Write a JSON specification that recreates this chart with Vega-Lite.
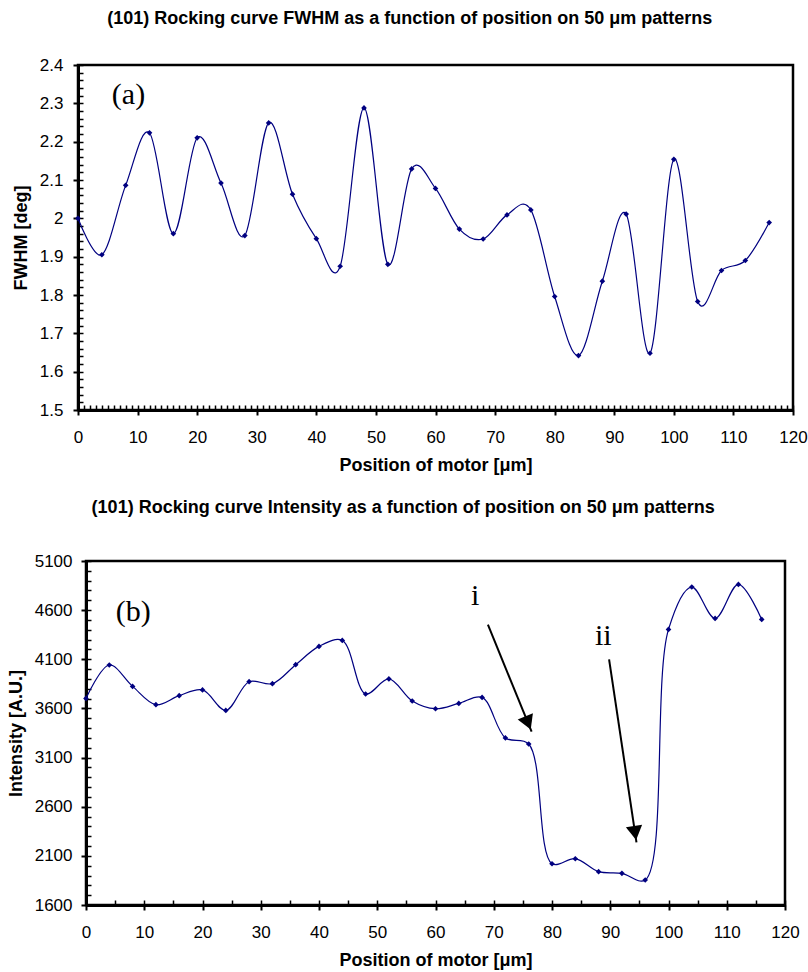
{
  "$schema": "https://vega.github.io/schema/vega-lite/v6.json",
  "background": "white",
  "padding": {"left": 5, "top": 8, "right": 0, "bottom": 0},
  "bounds": "flush",
  "center": true,
  "spacing": 151,
  "config": {
    "font": "Liberation Sans",
    "view": {"stroke": "black", "strokeWidth": 2.5},
    "axis": {"grid": false, "labelColor": "black", "titleColor": "black", "tickColor": "black", "domainColor": "black", "labelFont": "Liberation Sans", "titleFont": "Liberation Sans", "labelFontSize": 17, "titleFontSize": 18, "titleFontWeight": "bold"}
  },
  "datasets": {
    "fwhm": [
      {"pos": 0, "fwhm": 2.0}, {"pos": 4, "fwhm": 1.905}, {"pos": 8, "fwhm": 2.086}, {"pos": 12, "fwhm": 2.223},
      {"pos": 16, "fwhm": 1.96}, {"pos": 20, "fwhm": 2.21}, {"pos": 24, "fwhm": 2.092}, {"pos": 28, "fwhm": 1.955},
      {"pos": 32, "fwhm": 2.249}, {"pos": 36, "fwhm": 2.063}, {"pos": 40, "fwhm": 1.947}, {"pos": 44, "fwhm": 1.875},
      {"pos": 48, "fwhm": 2.288}, {"pos": 52, "fwhm": 1.88}, {"pos": 56, "fwhm": 2.129}, {"pos": 60, "fwhm": 2.078},
      {"pos": 64, "fwhm": 1.972}, {"pos": 68, "fwhm": 1.946}, {"pos": 72, "fwhm": 2.009}, {"pos": 76, "fwhm": 2.022},
      {"pos": 80, "fwhm": 1.796}, {"pos": 84, "fwhm": 1.642}, {"pos": 88, "fwhm": 1.836}, {"pos": 92, "fwhm": 2.011},
      {"pos": 96, "fwhm": 1.648}, {"pos": 100, "fwhm": 2.154}, {"pos": 104, "fwhm": 1.783}, {"pos": 108, "fwhm": 1.864},
      {"pos": 112, "fwhm": 1.89}, {"pos": 116, "fwhm": 1.989}
    ],
    "intensity": [
      {"pos": 0, "intensity": 3702}, {"pos": 4, "intensity": 4042}, {"pos": 8, "intensity": 3824}, {"pos": 12, "intensity": 3638},
      {"pos": 16, "intensity": 3730}, {"pos": 20, "intensity": 3788}, {"pos": 24, "intensity": 3580}, {"pos": 28, "intensity": 3872},
      {"pos": 32, "intensity": 3852}, {"pos": 36, "intensity": 4045}, {"pos": 40, "intensity": 4231}, {"pos": 44, "intensity": 4292},
      {"pos": 48, "intensity": 3747}, {"pos": 52, "intensity": 3900}, {"pos": 56, "intensity": 3676}, {"pos": 60, "intensity": 3597},
      {"pos": 64, "intensity": 3651}, {"pos": 68, "intensity": 3712}, {"pos": 72, "intensity": 3300}, {"pos": 76, "intensity": 3238},
      {"pos": 80, "intensity": 2020}, {"pos": 84, "intensity": 2071}, {"pos": 88, "intensity": 1939}, {"pos": 92, "intensity": 1922},
      {"pos": 96, "intensity": 1854}, {"pos": 100, "intensity": 4404}, {"pos": 104, "intensity": 4835}, {"pos": 108, "intensity": 4516},
      {"pos": 112, "intensity": 4862}, {"pos": 116, "intensity": 4506}
    ],
    "labelA": [{"pos": 8.47, "fwhm": 2.297, "text": "(a)"}],
    "labelsB": [
      {"pos": 8.12, "intensity": 4493, "text": "(b)"},
      {"pos": 66.8, "intensity": 4652, "text": "i"},
      {"pos": 88.8, "intensity": 4245, "text": "ii"}
    ],
    "arrows": [
      {"name": "i", "pos": 69.0, "intensity": 4452, "pos2": 76.5, "intensity2": 3363},
      {"name": "ii", "pos": 89.8, "intensity": 4099, "pos2": 94.5, "intensity2": 2237}
    ]
  },
  "vconcat": [
    {
      "width": 715,
      "height": 345,
      "title": {"text": "(101) Rocking curve FWHM as a function of position on 50 μm patterns", "fontSize": 18, "fontWeight": "bold", "font": "Liberation Sans", "color": "black", "anchor": "middle", "frame": "bounds", "baseline": "alphabetic", "offset": 14},
      "resolve": {"axis": {"x": "independent", "y": "independent"}},
      "layer": [
        {
          "data": {"name": "fwhm"},
          "mark": {"type": "line", "interpolate": "cardinal", "color": "#000080", "strokeWidth": 1.2},
          "encoding": {
            "x": {"field": "pos", "type": "quantitative", "scale": {"domain": [0, 120], "nice": false},
              "axis": {"orient": "bottom", "values": [0, 10, 20, 30, 40, 50, 60, 70, 80, 90, 100, 110, 120], "tickSize": 5, "tickWidth": 2, "domainWidth": 3, "labelPadding": 14, "title": "Position of motor [μm]", "titlePadding": 11, "labelFlush": false}},
            "y": {"field": "fwhm", "type": "quantitative", "scale": {"domain": [1.5, 2.4], "nice": false, "zero": false},
              "axis": {"orient": "left", "values": [1.5, 1.6, 1.7, 1.8, 1.9, 2.0, 2.1, 2.2, 2.3, 2.4], "format": "~g", "tickSize": 5, "tickWidth": 2, "domainWidth": 3, "labelPadding": 10, "title": "FWHM [deg]", "titlePadding": 9, "labelFlush": false}}
          }
        },
        {
          "data": {"name": "fwhm"},
          "mark": {"type": "point", "shape": "diamond", "filled": true, "color": "#000080", "size": 32, "opacity": 1},
          "encoding": {
            "x": {"field": "pos", "type": "quantitative",
              "axis": {"orient": "bottom", "values": [0,1,2,3,4,5,6,7,8,9,10,11,12,13,14,15,16,17,18,19,20,21,22,23,24,25,26,27,28,29,30,31,32,33,34,35,36,37,38,39,40,41,42,43,44,45,46,47,48,49,50,51,52,53,54,55,56,57,58,59,60,61,62,63,64,65,66,67,68,69,70,71,72,73,74,75,76,77,78,79,80,81,82,83,84,85,86,87,88,89,90,91,92,93,94,95,96,97,98,99,100,101,102,103,104,105,106,107,108,109,110,111,112,113,114,115,116,117,118,119,120], "tickSize": -5, "tickWidth": 1.5, "labels": false, "domain": false, "title": null}},
            "y": {"field": "fwhm", "type": "quantitative",
              "axis": {"orient": "left", "values": [1.5,1.52,1.54,1.56,1.58,1.6,1.62,1.64,1.66,1.68,1.7,1.72,1.74,1.76,1.78,1.8,1.82,1.84,1.86,1.88,1.9,1.92,1.94,1.96,1.98,2.0,2.02,2.04,2.06,2.08,2.1,2.12,2.14,2.16,2.18,2.2,2.22,2.24,2.26,2.28,2.3,2.32,2.34,2.36,2.38,2.4], "tickSize": -5, "tickWidth": 1.5, "labels": false, "domain": false, "title": null}}
          }
        },
        {
          "data": {"name": "labelA"},
          "mark": {"type": "text", "font": "Liberation Serif", "fontSize": 30, "align": "center", "baseline": "alphabetic", "color": "black"},
          "encoding": {
            "x": {"field": "pos", "type": "quantitative", "axis": null},
            "y": {"field": "fwhm", "type": "quantitative", "axis": null},
            "text": {"field": "text"}
          }
        }
      ]
    },
    {
      "width": 699,
      "height": 344,
      "title": {"text": "(101) Rocking curve Intensity as a function of position on 50 μm patterns", "fontSize": 18, "fontWeight": "bold", "font": "Liberation Sans", "color": "black", "anchor": "middle", "frame": "bounds", "baseline": "alphabetic", "offset": 21},
      "resolve": {"axis": {"x": "independent", "y": "independent"}},
      "layer": [
        {
          "data": {"name": "intensity"},
          "mark": {"type": "line", "interpolate": "catmull-rom", "color": "#000080", "strokeWidth": 1.2},
          "encoding": {
            "x": {"field": "pos", "type": "quantitative", "scale": {"domain": [0, 120], "nice": false},
              "axis": {"orient": "bottom", "values": [0, 10, 20, 30, 40, 50, 60, 70, 80, 90, 100, 110, 120], "tickSize": 5, "tickWidth": 2, "domainWidth": 3, "labelPadding": 14, "title": "Position of motor [μm]", "titlePadding": 11, "labelFlush": false}},
            "y": {"field": "intensity", "type": "quantitative", "scale": {"domain": [1600, 5100], "nice": false, "zero": false},
              "axis": {"orient": "left", "values": [1600, 2100, 2600, 3100, 3600, 4100, 4600, 5100], "format": "d", "tickSize": 5, "tickWidth": 2, "domainWidth": 3, "labelPadding": 9, "title": "Intensity [A.U.]", "titlePadding": 9, "labelFlush": false}}
          }
        },
        {
          "data": {"name": "intensity"},
          "mark": {"type": "point", "shape": "diamond", "filled": true, "color": "#000080", "size": 32, "opacity": 1},
          "encoding": {
            "x": {"field": "pos", "type": "quantitative",
              "axis": {"orient": "bottom", "values": [0,5,10,15,20,25,30,35,40,45,50,55,60,65,70,75,80,85,90,95,100,105,110,115,120], "tickSize": -5, "tickWidth": 1.5, "labels": false, "domain": false, "title": null}},
            "y": {"field": "intensity", "type": "quantitative",
              "axis": {"orient": "left", "values": [1600,1700,1800,1900,2000,2100,2200,2300,2400,2500,2600,2700,2800,2900,3000,3100,3200,3300,3400,3500,3600,3700,3800,3900,4000,4100,4200,4300,4400,4500,4600,4700,4800,4900,5000,5100], "tickSize": -5, "tickWidth": 1.5, "labels": false, "domain": false, "title": null}}
          }
        },
        {
          "data": {"name": "arrows"},
          "mark": {"type": "rule", "color": "black", "strokeWidth": 2},
          "encoding": {
            "x": {"field": "pos", "type": "quantitative", "axis": null},
            "y": {"field": "intensity", "type": "quantitative", "axis": null},
            "x2": {"field": "pos2"},
            "y2": {"field": "intensity2"}
          }
        },
        {
          "data": {"name": "arrows"},
          "transform": [{"filter": "datum.name === 'i'"}],
          "mark": {"type": "point", "shape": "triangle-up", "filled": true, "color": "black", "opacity": 1, "size": 270, "angle": 157.6, "xOffset": -3.6, "yOffset": -8.8},
          "encoding": {
            "x": {"field": "pos2", "type": "quantitative", "axis": null},
            "y": {"field": "intensity2", "type": "quantitative", "axis": null}
          }
        },
        {
          "data": {"name": "arrows"},
          "transform": [{"filter": "datum.name === 'ii'"}],
          "mark": {"type": "point", "shape": "triangle-up", "filled": true, "color": "black", "opacity": 1, "size": 270, "angle": 171.4, "xOffset": -1.4, "yOffset": -9.4},
          "encoding": {
            "x": {"field": "pos2", "type": "quantitative", "axis": null},
            "y": {"field": "intensity2", "type": "quantitative", "axis": null}
          }
        },
        {
          "data": {"name": "labelsB"},
          "mark": {"type": "text", "font": "Liberation Serif", "fontSize": 30, "align": "center", "baseline": "alphabetic", "color": "black"},
          "encoding": {
            "x": {"field": "pos", "type": "quantitative", "axis": null},
            "y": {"field": "intensity", "type": "quantitative", "axis": null},
            "text": {"field": "text"}
          }
        }
      ]
    }
  ]
}
